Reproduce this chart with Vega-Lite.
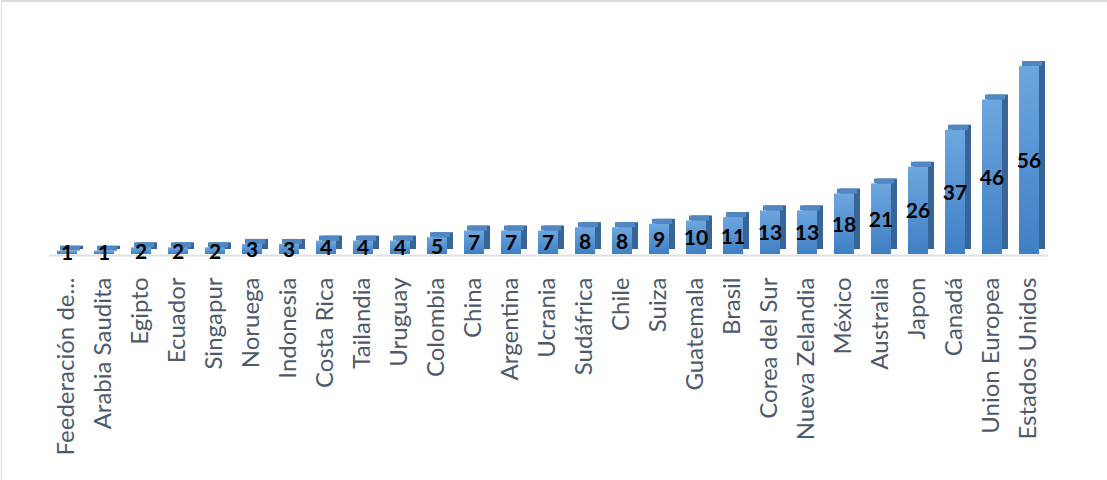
{
  "$schema": "https://vega.github.io/schema/vega-lite/v6.json",
  "width": 1106,
  "height": 479,
  "autosize": {"type": "none"},
  "padding": {"left": 1, "top": 1, "right": 0, "bottom": 0},
  "background": "white",
  "config": {"view": {"stroke": null}},
  "data": {"values": [
    {"pais": "Feederación de...", "valor": 1},
    {"pais": "Arabia Saudita", "valor": 1},
    {"pais": "Egipto", "valor": 2},
    {"pais": "Ecuador", "valor": 2},
    {"pais": "Singapur", "valor": 2},
    {"pais": "Noruega", "valor": 3},
    {"pais": "Indonesia", "valor": 3},
    {"pais": "Costa Rica", "valor": 4},
    {"pais": "Tailandia", "valor": 4},
    {"pais": "Uruguay", "valor": 4},
    {"pais": "Colombia", "valor": 5},
    {"pais": "China", "valor": 7},
    {"pais": "Argentina", "valor": 7},
    {"pais": "Ucrania", "valor": 7},
    {"pais": "Sudáfrica", "valor": 8},
    {"pais": "Chile", "valor": 8},
    {"pais": "Suiza", "valor": 9},
    {"pais": "Guatemala", "valor": 10},
    {"pais": "Brasil", "valor": 11},
    {"pais": "Corea del Sur", "valor": 13},
    {"pais": "Nueva Zelandia", "valor": 13},
    {"pais": "México", "valor": 18},
    {"pais": "Australia", "valor": 21},
    {"pais": "Japon", "valor": 26},
    {"pais": "Canadá", "valor": 37},
    {"pais": "Union Europea", "valor": 46},
    {"pais": "Estados Unidos", "valor": 56}
  ]},
  "layer": [
    {
      "layer": [
        {
          "mark": {"type": "bar", "color": "#386597", "xOffset": 6, "yOffset": -5, "y2Offset": -5},
          "encoding": {
            "x": {"field": "pais", "type": "nominal", "sort": null,
              "scale": {"range": [47.5, 1046.5], "paddingInner": 0.46, "paddingOuter": 0.23},
              "axis": {"orient": "bottom", "offset": -225, "title": null, "labelAngle": 270, "labelAlign": "right", "labelBaseline": "middle", "labelFont": "Lato", "labelFontSize": 24, "labelColor": "#4d5a6b", "labelPadding": 22, "ticks": false, "grid": false, "domainColor": "#dde2e8", "domainWidth": 2, "labelLimit": 300, "labelOverlap": false}},
            "y": {"field": "valor", "type": "quantitative",
              "scale": {"domain": [-67.3, 75.36], "nice": false, "zero": false},
              "axis": {"orient": "left", "title": null, "labels": false, "ticks": false, "grid": false, "domain": true, "domainColor": "#dde2e8", "domainWidth": 1.5}},
            "y2": {"datum": 0}
          }
        },
        {
          "mark": {"type": "bar", "color": "#5187c3", "xOffset": 3, "yOffset": -5, "y2Offset": 0},
          "encoding": {
            "x": {"field": "pais", "type": "nominal", "sort": null},
            "y": {"field": "valor", "type": "quantitative"},
            "y2": {"field": "valor"}
          }
        },
        {
          "mark": {"type": "bar", "color": {"gradient": "linear", "x1": 0, "y1": 0, "x2": 0, "y2": 1, "stops": [{"offset": 0, "color": "#6da7df"}, {"offset": 1, "color": "#3f7fc4"}]}},
          "encoding": {
            "x": {"field": "pais", "type": "nominal", "sort": null},
            "y": {"field": "valor", "type": "quantitative"},
            "y2": {"datum": 0}
          }
        },
        {
          "mark": {"type": "rule", "color": "#dadada", "strokeWidth": 1},
          "encoding": {
            "y": {"datum": 75.36, "type": "quantitative"}
          }
        }
      ]
    },
    {
      "mark": {"type": "text", "font": "Lato", "fontWeight": "bold", "fontSize": 21, "color": "black", "dy": 2},
      "encoding": {
        "x": {"field": "pais", "type": "nominal", "sort": null},
        "y": {"field": "valor", "type": "quantitative", "scale": {"domain": [-134.6, 150.72], "nice": false, "zero": false}, "axis": null},
        "text": {"field": "valor", "type": "quantitative"}
      }
    }
  ],
  "resolve": {"scale": {"y": "independent"}}
}
